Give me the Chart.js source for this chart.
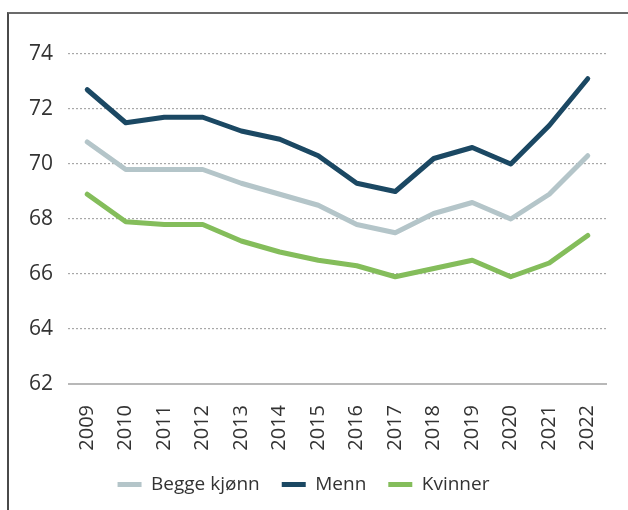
<!DOCTYPE html>
<html><head><meta charset="utf-8">
<script src="https://cdn.jsdelivr.net/npm/chart.js@4.4.1/dist/chart.umd.min.js"></script>
<style>
html,body{margin:0;padding:0;background:#fff;width:628px;height:510px;overflow:hidden;}
#frame{position:absolute;left:7px;top:12px;width:700px;height:600px;border-top:2px solid #6b6b6b;border-left:2px solid #4a4a4a;box-sizing:border-box;}
#wrap{position:absolute;left:0;top:0;width:628px;height:510px;}
</style></head>
<body>
<div id="frame"></div>
<div id="wrap"><canvas id="c" width="628" height="510"></canvas></div>
<script>
const years = ["2009","2010","2011","2012","2013","2014","2015","2016","2017","2018","2019","2020","2021","2022"];
const begge = [70.8,69.8,69.8,69.8,69.3,68.9,68.5,67.8,67.5,68.2,68.6,68.0,68.9,70.3];
const menn = [72.7,71.5,71.7,71.7,71.2,70.9,70.3,69.3,69.0,70.2,70.6,70.0,71.4,73.1];
const kvinner = [68.9,67.9,67.8,67.8,67.2,66.8,66.5,66.3,65.9,66.2,66.5,65.9,66.4,67.4];
const seriesNames = ["Begge kjønn","Menn","Kvinner"];
const yTicks = [62,64,66,68,70,72,74];

const font = "'Open Sans', sans-serif";
function ds(label, data, color){
  return {label, data, borderColor:color, backgroundColor:color, borderWidth:5,
    pointRadius:0, tension:0, borderCapStyle:'round', borderJoinStyle:'round', fill:false};
}
new Chart(document.getElementById('c'), {
  type:'line',
  data:{labels:years, datasets:[
    ds(seriesNames[0], begge, '#b4c5c9'),
    ds(seriesNames[1], menn, '#1b4863'),
    ds(seriesNames[2], kvinner, '#84bd5b')
  ]},
  options:{
    responsive:false, animation:false,
    layout:{padding:{left:0,right:21,top:54,bottom:6}},
    plugins:{
      tooltip:{enabled:false},
      legend:{position:'bottom', labels:{usePointStyle:true, pointStyle:'line', pointStyleWidth:24,
        boxHeight:5, color:'#333', font:{family:font,size:19}, padding:22}}
    },
    scales:{
      x:{offset:true,
        grid:{display:false, drawTicks:false},
        border:{display:false},
        ticks:{color:'#333', font:{family:font,size:20}, maxRotation:90, minRotation:90, padding:21, autoSkip:false},
        afterFit:(s)=>{s.height=69; s.paddingLeft=0; s.paddingRight=0;}
      },
      y:{min:62,max:74,
        afterBuildTicks:(s)=>{s.ticks = yTicks.map(v=>({value:v}));},
        afterFit:(s)=>{s.width=68; s.paddingTop=0; s.paddingBottom=0;},
        grid:{color:(c)=> c.tick.value===62 ? 'rgba(0,0,0,0)' : '#a8a8a8', lineWidth:1.2, drawTicks:false},
        border:{display:false, dash:[2,2]},
        ticks:{color:'#333', font:{family:font,size:21}, padding:15}
      }
    }
  },
  plugins:[{
    id:'axisline',
    beforeDatasetsDraw(chart){
      const ctx=chart.ctx, a=chart.chartArea, y=chart.scales.y.getPixelForValue(62);
      ctx.save(); ctx.strokeStyle='#a0a0a0'; ctx.lineWidth=1.5;
      ctx.beginPath(); ctx.moveTo(a.left,y); ctx.lineTo(a.right,y); ctx.stroke(); ctx.restore();
    }
  }]
});
</script>
</body></html>
